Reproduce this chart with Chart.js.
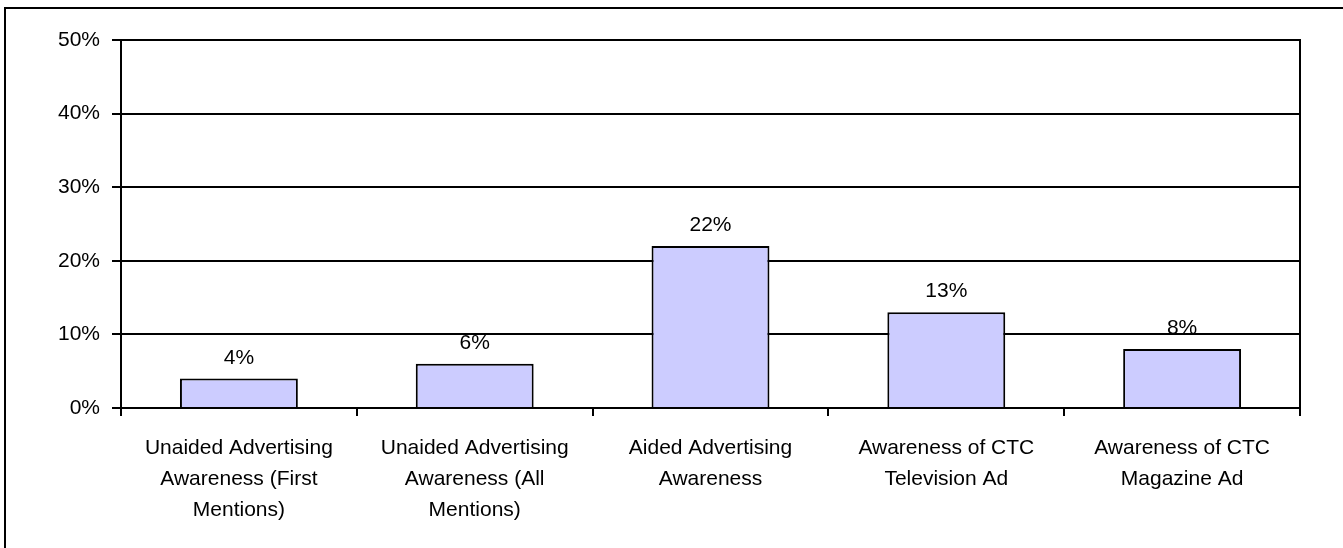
<!DOCTYPE html>
<html>
<head>
<meta charset="utf-8">
<script src="https://cdn.jsdelivr.net/npm/chart.js@4"></script>
<style>
    html, body { margin: 0; padding: 0; background: #fff; overflow: hidden; }
    #wrap { position: relative; width: 1343px; height: 548px; }
    #frame {
        position: absolute; left: 4px; top: 7px; width: 1400px; height: 600px;
        border-top: 2px solid #000; border-left: 2px solid #000;
    }
    canvas { position: absolute; left: 0; top: 0; }
</style>
</head>
<body>
<div id="wrap">
    <div id="frame"></div>
    <canvas id="chartAwareness" width="1343" height="548"></canvas>
</div>
<script>
// awareness categories and values (%)
const categories = [
    ['Unaided Advertising', 'Awareness (First', 'Mentions)'],
    ['Unaided Advertising', 'Awareness (All', 'Mentions)'],
    ['Aided Advertising', 'Awareness'],
    ['Awareness of CTC', 'Television Ad'],
    ['Awareness of CTC', 'Magazine Ad']
];
const awareness = [4, 6, 22, 13, 8];
const yTicks = [0, 10, 20, 30, 40, 50];

const FONT = '"Liberation Sans", Arial, sans-serif';

// value labels above each bar
const barLabels = {
    id: 'barLabels',
    afterDatasetsDraw(chart) {
        const ctx = chart.ctx;
        const meta = chart.getDatasetMeta(0);
        ctx.save();
        ctx.font = '21px ' + FONT;
        ctx.fillStyle = '#000';
        ctx.textAlign = 'center';
        ctx.textBaseline = 'alphabetic';
        meta.data.forEach((bar, i) => {
            ctx.fillText(awareness[i] + '%', bar.x, bar.y - 15);
        });
        ctx.restore();
    }
};

// right edge of the plot area
const plotEdge = {
    id: 'plotEdge',
    afterDraw(chart) {
        const { ctx, chartArea } = chart;
        ctx.save();
        ctx.strokeStyle = '#000';
        ctx.lineWidth = 2;
        ctx.beginPath();
        ctx.moveTo(chartArea.right, chartArea.top - 1);
        ctx.lineTo(chartArea.right, chartArea.bottom);
        ctx.stroke();
        ctx.restore();
    }
};

const ctxBar = document.getElementById('chartAwareness').getContext('2d');

new Chart(ctxBar, {
    type: 'bar',
    data: {
        labels: categories,
        datasets: [{
            data: awareness,
            backgroundColor: '#CCCCFF',
            borderColor: '#000',
            borderWidth: 2,
            barPercentage: 0.5,
            categoryPercentage: 1
        }]
    },
    options: {
        responsive: false,
        animation: false,
        layout: { padding: { left: 0, top: 40, right: 43, bottom: 0 } },
        plugins: {
            legend: { display: false },
            tooltip: { enabled: false }
        },
        scales: {
            x: {
                afterFit: scale => { scale.height = 140; },
                grid: {
                    offset: true,
                    drawOnChartArea: false,
                    color: '#000',
                    lineWidth: 2,
                    tickLength: 8
                },
                border: { display: true, color: '#000', width: 2 },
                ticks: {
                    color: '#000',
                    font: { family: FONT, size: 21, lineHeight: 1.48 },
                    padding: 17,
                    maxRotation: 0,
                    autoSkip: false
                }
            },
            y: {
                min: 0,
                max: 50,
                afterFit: scale => { scale.width = 121; },
                afterBuildTicks: scale => {
                    scale.ticks = yTicks.map(v => ({ value: v }));
                },
                grid: {
                    color: '#000',
                    lineWidth: 2,
                    tickLength: 9
                },
                border: { display: true, color: '#000', width: 2 },
                ticks: {
                    color: '#000',
                    font: { family: FONT, size: 21 },
                    padding: 12,
                    callback: value => value + '%'
                }
            }
        }
    },
    plugins: [barLabels, plotEdge]
});
</script>
</body>
</html>
